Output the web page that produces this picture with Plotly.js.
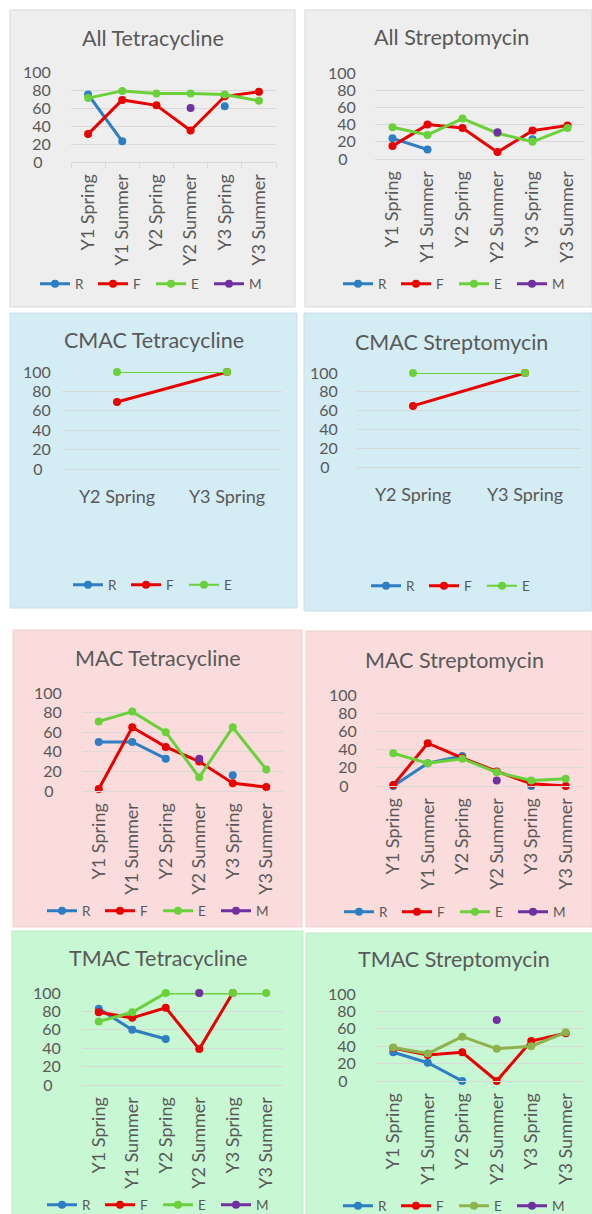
<!DOCTYPE html>
<html>
<head>
<meta charset="utf-8">
<script src="https://cdn.plot.ly/plotly-3.0.1.min.js"></script>
<style>
html,body{margin:0;padding:0;background:#fff;overflow:hidden;}
#chart{width:592px;height:1240px;}
</style>
</head>
<body>
<div id="chart"></div>
<script>
// ---------- categories ----------
const seasons6 = ['Y1 Spring','Y1 Summer','Y2 Spring','Y2 Summer','Y3 Spring','Y3 Summer'];
const seasons2 = ['Y2 Spring','Y3 Spring'];
const yTicks = [0, 20, 40, 60, 80, 100];
const yTickLabels = ['0', '20', '40', '60', '80', '100'];

// ---------- All ----------
const allTetR = [75, 23, null, null, 62, null];
const allTetF = [31, 69, 63, 35, 73, 78];
const allTetE = [71, 79, 76, 76, 75, 68];
const allTetM = [null, null, null, 60, null, null];

const allStrepR = [24, 11, null, null, 23, null];
const allStrepF = [15, 40, 36, 8, 33, 39];
const allStrepE = [37, 28, 47, 30, 20, 36];
const allStrepM = [null, null, null, 31, null, null];

// ---------- CMAC ----------
const cmacTetR = [null, null];
const cmacTetF = [69, 100];
const cmacTetE = [100, 100];

const cmacStrepR = [null, null];
const cmacStrepF = [65, 100];
const cmacStrepE = [100, 100];

// ---------- MAC ----------
const macTetR = [50, 50, 33, null, 16, null];
const macTetF = [2, 65, 45, 30, 8, 4];
const macTetE = [71, 81, 60, 14, 65, 22];
const macTetM = [null, null, null, 33, null, null];

const macStrepR = [0, 25, 33, null, 0, null];
const macStrepF = [1, 47, 31, 16, 2.5, 0];
const macStrepE = [36, 25, 30, 15, 6, 8];
const macStrepM = [null, null, null, 6, null, null];

// ---------- TMAC ----------
const tmacTetR = [83, 60, 50, null, null, null];
const tmacTetF = [79, 73, 84, 39, 100, null];
const tmacTetE = [69, 79, 100, 100, 100, 100];
const tmacTetM = [null, null, null, 100, null, null];

const tmacStrepR = [33, 21, 0, null, null, null];
const tmacStrepF = [38, 30, 33, 0, 46, 55];
const tmacStrepE = [38.5, 31.5, 51, 37, 40, 56];
const tmacStrepM = [null, null, null, 70, null, null];

const seriesNames = ['R', 'F', 'E', 'M'];

// ---------- styling ----------
const W = 592, H = 1240;   // figure slightly taller than the 1214px window (bottom is cropped)
const FONT = 'Lato, "Open Sans", sans-serif';
const TXT = '#595959';
const COL = {R: '#2E7EC3', F: '#E80000', E: '#6BD13B', M: '#7030A0'};
const GRID = '#D9D9D9';

const panels = [
  {title: 'All Tetracycline', cats: seasons6, series: [allTetR, allTetF, allTetE, allTetM],
   bg: '#EEEEEE', border: '#D9D9D9', box: [10, 10, 295, 307], px: [71, 276], py: [72, 162],
   t: [153, 38], lg: [45, 284], ticks: true, rot: true, ygap: 19},
  {title: 'All Streptomycin', cats: seasons6, series: [allStrepR, allStrepF, allStrepE, allStrepM],
   bg: '#EEEEEE', border: '#D9D9D9', box: [305, 10, 592, 307], px: [375, 585], py: [73, 159],
   t: [451, 37], lg: [348, 284], rot: true, ygap: 18},
  {title: 'CMAC Tetracycline', cats: seasons2, series: [cmacTetR, cmacTetF, cmacTetE],
   bg: '#D4ECF3', border: '#C9E0E8', box: [10, 313, 297, 608], px: [62, 282], py: [372, 469],
   t: [154, 340], lg: [78, 585], rot: false, thinE: true, ygap: 10},
  {title: 'CMAC Streptomycin', cats: seasons2, series: [cmacStrepR, cmacStrepF, cmacStrepE],
   bg: '#D4ECF3', border: '#C9E0E8', box: [304, 313, 592, 611], px: [357, 581], py: [373, 467],
   t: [451, 342], lg: [376, 586], rot: false, thinE: true, ygap: 18},
  {title: 'MAC Tetracycline', cats: seasons6, series: [macTetR, macTetF, macTetE, macTetM],
   bg: '#F9DCDB', border: '#F0D0CF', box: [13, 630, 302, 927], px: [82, 283], py: [693, 791],
   t: [158, 658], lg: [52, 911], rot: true, ygap: 19},
  {title: 'MAC Streptomycin', cats: seasons6, series: [macStrepR, macStrepF, macStrepE, macStrepM],
   bg: '#F9DCDB', border: '#F0D0CF', box: [306, 631, 592, 927], px: [376, 583], py: [695, 786],
   t: [454, 660], lg: [349, 912], rot: true, ygap: 18},
  {title: 'TMAC Tetracycline', cats: seasons6, series: [tmacTetR, tmacTetF, tmacTetE, tmacTetM],
   bg: '#C8F7D3', border: '#BDEBC8', box: [12, 931, 303, 1230], px: [82, 283], py: [993, 1085],
   t: [158, 958], lg: [52, 1205], rot: true, ygap: 20},
  {title: 'TMAC Streptomycin', cats: seasons6, series: [tmacStrepR, tmacStrepF, tmacStrepE, tmacStrepM],
   bg: '#C8F7D3', border: '#BDEBC8', box: [306, 933, 600, 1230], px: [376, 583], py: [994, 1081],
   t: [454, 959], lg: [348, 1206], rot: true, olive: true, ygap: 19}
];

const fx = v => v / W;
const fy = v => 1 - v / H;

const data = [];
const layout = {
  width: W, height: H,
  margin: {l: 0, r: 0, t: 0, b: 0},
  paper_bgcolor: '#FFFFFF',
  plot_bgcolor: 'rgba(0,0,0,0)',
  font: {family: FONT, color: TXT},
  showlegend: true,
  shapes: [],
  annotations: []
};

panels.forEach((p, i) => {
  const n = i + 1;
  const xa = n === 1 ? 'xaxis' : 'xaxis' + n;
  const ya = n === 1 ? 'yaxis' : 'yaxis' + n;
  const xr = n === 1 ? 'x' : 'x' + n;
  const yr = n === 1 ? 'y' : 'y' + n;
  const lgName = n === 1 ? 'legend' : 'legend' + n;

  layout.shapes.push({
    type: 'rect', xref: 'paper', yref: 'paper', layer: 'below',
    x0: fx(p.box[0]), x1: fx(p.box[2]), y0: fy(p.box[3]), y1: fy(p.box[1]),
    fillcolor: p.bg, line: {color: p.border, width: 1}
  });

  layout.annotations.push({
    text: p.title, xref: 'paper', yref: 'paper', x: fx(p.t[0]), y: fy(p.t[1]),
    xanchor: 'center', yanchor: 'middle', showarrow: false,
    font: {family: FONT, size: 21.5, color: TXT}
  });

  layout[xa] = {
    domain: [fx(p.px[0]), fx(p.px[1])], anchor: yr,
    type: 'category', categoryorder: 'array', categoryarray: p.cats,
    range: [-0.5, p.cats.length - 0.5],
    showgrid: false, zeroline: false,
    showline: true, linecolor: GRID, linewidth: 1,
    ticks: p.ticks ? 'outside' : '', tickson: 'boundaries', ticklen: 5, tickcolor: GRID,
    tickangle: p.rot ? -90 : 0,
    ticklabelstandoff: p.rot ? 4 : 11,
    tickfont: {family: FONT, size: 18, color: TXT},
    fixedrange: true
  };
  layout[ya] = {
    domain: [fy(p.py[1]), fy(p.py[0])], anchor: xr,
    range: [0, 100], tickvals: yTicks,
    ticktext: yTickLabels.map(s => s.length === 1 ? s + '\u00A0\u00A0' : s),
    showgrid: true, gridcolor: GRID, gridwidth: 1,
    zeroline: false, showline: false,
    ticks: 'outside', ticklen: p.ygap - 3, tickcolor: 'rgba(0,0,0,0)',
    tickfont: {family: FONT, size: 16, color: TXT},
    fixedrange: true
  };

  layout[lgName] = {
    orientation: 'h', x: fx(p.lg[0] - 10), y: fy(p.lg[1]),
    xanchor: 'left', yanchor: 'middle',
    bgcolor: 'rgba(0,0,0,0)', borderwidth: 0,
    entrywidth: 13, entrywidthmode: 'pixels',
    font: {family: FONT, size: 13.5, color: TXT},
    traceorder: 'normal'
  };

  p.series.forEach((vals, k) => {
    const nm = seriesNames[k];
    let color = COL[nm];
    if (nm === 'E' && p.olive) color = '#8FB34C';
    const lw = (nm === 'E' && p.thinE) ? 2 : 3;
    data.push({
      type: 'scatter', mode: 'lines+markers', name: nm,
      x: p.cats, y: vals, xaxis: xr, yaxis: yr,
      legend: lgName, showlegend: true,
      connectgaps: false, cliponaxis: false,
      line: {color: color, width: lw},
      marker: {color: color, size: 8},
      hoverinfo: 'skip'
    });
  });
});

Plotly.newPlot('chart', data, layout, {staticPlot: true, displayModeBar: false});
</script>
</body>
</html>
